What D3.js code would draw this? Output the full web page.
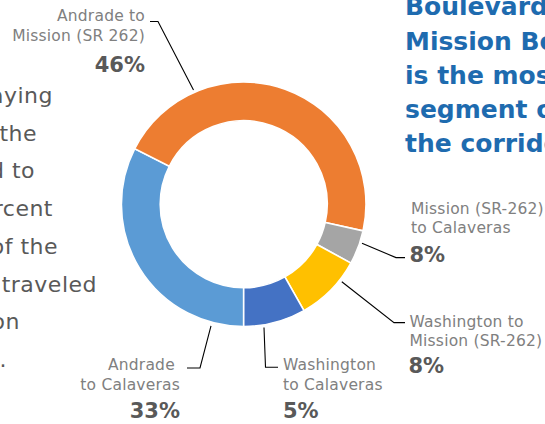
<!DOCTYPE html>
<html>
<head>
<meta charset="utf-8">
<script src="https://cdn.jsdelivr.net/npm/d3@7"></script>
<style>
  html, body { margin: 0; padding: 0; background: #ffffff; overflow: hidden; }
  svg { display: block; }
</style>
</head>
<body>
<svg id="chart" width="545" height="424"></svg>
<script>
// ---------- data ----------
const segments = [
  "Andrade to Calaveras",
  "Andrade to Mission (SR 262)",
  "Mission (SR-262) to Calaveras",
  "Washington to Mission (SR-262)",
  "Washington to Calaveras"
];
// arc shares as drawn in the reference (percent of the ring)
const shares = [32.5, 46, 4.5, 8.8, 8.2];
// printed percentage labels
const shareLabels = ["33%", "46%", "8%", "8%", "5%"];
const labelLines = [
  ["Andrade\u00A0", "to Calaveras"],
  ["Andrade to", "Mission (SR 262)"],
  ["Mission (SR-262)", "to Calaveras"],
  ["Washington to", "Mission (SR-262)"],
  ["Washington", "to Calaveras"]
];
const titleLines = ["Boulevard to", "Mission Boulevard", "is the most traveled", "segment of", "the corridor."];
const bodyLines = ["aying", "the", "d to", "rcent", "of the", "traveled", "on", "l."];

// ---------- styles / layout ----------
const colors = ["#5B9BD5", "#ED7D31", "#A5A5A5", "#FFC000", "#4472C4"];
const cx = 243.7, cy = 204.2, rOuter = 122.3, rInner = 83.5;

// label layout: anchor, x for text lines, x for percent, baselines
const labelLayout = [
  { anchor: "end",   x: 180, px: 180, y: [370, 390, 418] },
  { anchor: "end",   x: 145, px: 145, y: [20.7, 40.5, 72] },
  { anchor: "start", x: 411, px: 409.5, y: [213.5, 232.5, 262] },
  { anchor: "start", x: 409.5, px: 408.5, y: [326.5, 345.5, 373] },
  { anchor: "start", x: 283, px: 283, y: [370, 390, 418] }
];
// leader line polylines (annotations)
const leaders = [
  [[211, 325.8], [200, 368], [187, 368]],
  [[193.5, 90], [158, 21.5], [150, 21.5]],
  [[362, 243.3], [396, 257.6], [405, 257.6]],
  [[341.8, 281.8], [394, 322.6], [405, 322.6]],
  [[264, 327.5], [265.5, 367.3], [278, 367.3]]
];
const bodyRight = [53, 37, 35, 53, 58, 97, 20, 7];
const bodyBase0 = 103, bodyStep = 37.7;
const titleX = 405, titleBaselines = [15, 50, 83.5, 118, 152];

// ---------- drawing ----------
const svg = d3.select("#chart");

const pie = d3.pie().sort(null).value(d => d)
  .startAngle(Math.PI).endAngle(3 * Math.PI);
const arc = d3.arc().innerRadius(rInner).outerRadius(rOuter);

const g = svg.append("g").attr("transform", `translate(${cx},${cy})`);
g.selectAll("path.slice")
  .data(pie(shares))
  .join("path")
  .attr("class", "slice")
  .attr("d", arc)
  .attr("fill", (d, i) => colors[i])
  .attr("stroke", "#ffffff")
  .attr("stroke-width", 1.6)
  .attr("stroke-linejoin", "miter");

// leader lines
const line = d3.line();
svg.selectAll("path.leader")
  .data(leaders)
  .join("path")
  .attr("class", "leader")
  .attr("d", d => line(d))
  .attr("fill", "none")
  .attr("stroke", "#000000")
  .attr("stroke-width", 1.1);

// labels
const labelFont = "'DejaVu Sans', 'Liberation Sans', sans-serif";
segments.forEach((seg, i) => {
  const L = labelLayout[i];
  const grp = svg.append("g").attr("class", "label").attr("data-segment", seg);
  labelLines[i].forEach((t, j) => {
    grp.append("text")
      .attr("x", L.x).attr("y", L.y[j])
      .attr("text-anchor", L.anchor)
      .attr("font-family", labelFont)
      .attr("font-size", 15.5)
      .attr("letter-spacing", 0.2)
      .attr("fill", "#808080")
      .text(t);
  });
  grp.append("text")
    .attr("x", L.px).attr("y", L.y[2])
    .attr("text-anchor", L.anchor)
    .attr("font-family", labelFont)
    .attr("font-size", 21)
    .attr("font-weight", "bold")
    .attr("fill", "#595959")
    .text(shareLabels[i]);
});

// right title (clipped by the page edge)
svg.append("g").selectAll("text")
  .data(titleLines)
  .join("text")
  .attr("x", titleX)
  .attr("y", (d, i) => titleBaselines[i])
  .attr("font-family", labelFont)
  .attr("font-size", 25)
  .attr("font-weight", "bold")
  .attr("fill", "#1E6BAF")
  .text(d => d);

// left body text (clipped by the page edge)
svg.append("g").selectAll("text")
  .data(bodyLines)
  .join("text")
  .attr("x", (d, i) => bodyRight[i])
  .attr("y", (d, i) => bodyBase0 + i * bodyStep)
  .attr("text-anchor", "end")
  .attr("font-family", labelFont)
  .attr("font-size", 22)
  .attr("letter-spacing", 0.5)
  .attr("fill", "#595959")
  .text(d => d);
</script>
</body>
</html>
